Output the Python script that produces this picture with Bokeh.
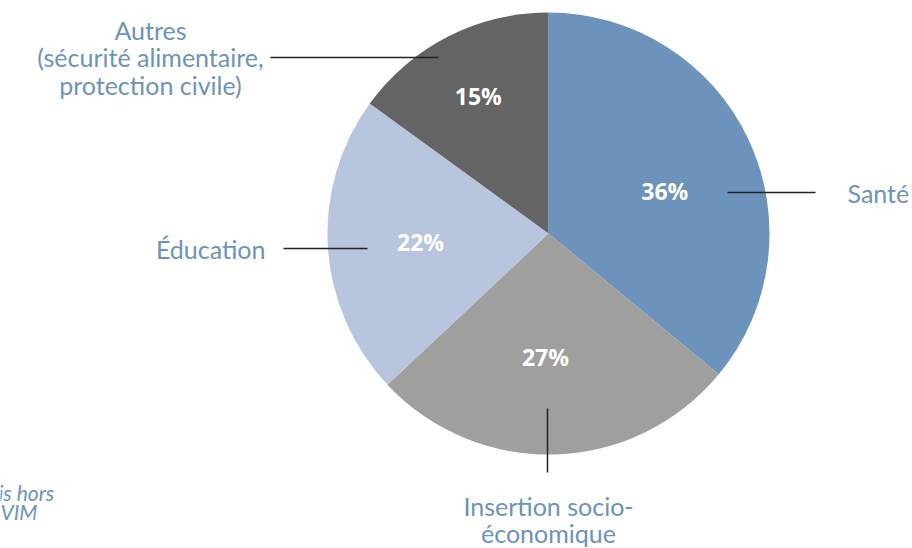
import math
from bokeh.plotting import figure
from bokeh.models import Range1d, ColumnDataSource
from bokeh.core.properties import value
from bokeh.embed import file_html
from bokeh.resources import INLINE

# ---- data ----
categories = ["Santé", "Insertion socio-\néconomique", "Éducation",
              "Autres\n(sécurité alimentaire,\nprotection civile)"]
shares = [36, 27, 22, 15]
pct_labels = ["36%", "27%", "22%", "15%"]
colors = ["#6b93bb", "#9f9f9e", "#b7c5de", "#646464"]
footnote = ["is hors", "VIM"]

# ---- layout ----
W, H = 912, 548
CX, CY, R = 548, H - 233, 221
LABEL_COLOR = "#6b93bb"

p = figure(width=W, height=H, output_backend="svg", toolbar_location=None,
           x_range=Range1d(0, W), y_range=Range1d(0, H), min_border=0,
           outline_line_color=None)
p.axis.visible = False
p.grid.visible = False

total = sum(shares)
starts, ends, mids = [], [], []
cum = 0.0
for s in shares:
    a0 = math.pi / 2 - 2 * math.pi * cum / total
    cum += s
    a1 = math.pi / 2 - 2 * math.pi * cum / total
    starts.append(a0)
    ends.append(a1)
    mids.append((a0 + a1) / 2)

src = ColumnDataSource(dict(start=starts, end=ends, color=colors))
p.wedge(x=CX, y=CY, radius=R, start_angle="start", end_angle="end",
        direction="clock", fill_color="color", line_color=None, source=src)

# percent labels
rad_f = [0.56, 0.56, 0.58, 0.70]
ang_adj = [-0.09, -0.056, 0.0, 0.0]
px = [CX + R * f * math.cos(m + d) for f, m, d in zip(rad_f, mids, ang_adj)]
py = [CY + R * f * math.sin(m + d) for f, m, d in zip(rad_f, mids, ang_adj)]
p.text(x=px, y=py, text=pct_labels, text_color="white",
       text_font=value("Open Sans"), text_font_style="bold",
       text_font_size="23px", text_align="center", text_baseline="middle")

# leader lines
p.segment(x0=[727, 547, 283, 270], y0=[H - 192, H - 408, H - 248, H - 57],
          x1=[815, 547, 367, 438], y1=[H - 192, H - 472, H - 248, H - 57],
          line_color="#222222", line_width=1.5)

# category labels
lx = [847, 548, 265, 150]
ly = [H - 192, H - 519, H - 248, H - 57]
al = ["left", "center", "right", "center"]
p.text(x=lx, y=ly, text=categories, text_color=LABEL_COLOR,
       text_font=value("Lato"), text_font_size="25px",
       text_align=al, text_baseline="middle", text_line_height=0.92)

# cut-off footnote
p.text(x=[-2, 0], y=[H - 492, H - 511], text=footnote, text_color=LABEL_COLOR,
       text_font=value("Lato"), text_font_style="italic",
       text_font_size="21px", text_align="left", text_baseline="middle")

open("out.html", "w").write(file_html(p, INLINE))
